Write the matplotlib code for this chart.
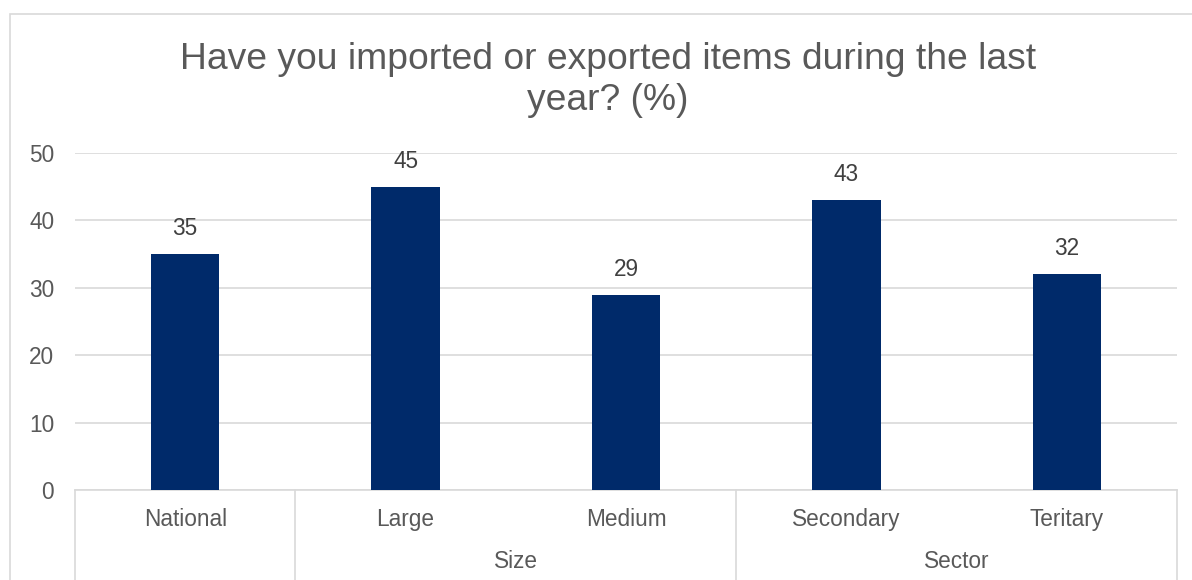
import matplotlib
matplotlib.use("Agg")
import matplotlib.pyplot as plt
from matplotlib.patches import Rectangle
import matplotlib.transforms as mtransforms

plt.rcParams['font.family'] = ['Liberation Sans', 'DejaVu Sans']

# Data
categories = ["National", "Large", "Medium", "Secondary", "Teritary"]
values = [35, 45, 29, 43, 32]
groups = ["", "Size", "Sector"]
group_spans = [(0, 0), (1, 2), (3, 4)]  # first/last category index of each group
title = "Have you imported or exported items during the last\nyear? (%)"
yticks = [0, 10, 20, 30, 40, 50]

W, H = 1192, 580
fig = plt.figure(figsize=(W / 100, H / 100), dpi=100)
fig.patch.set_facecolor("white")

grid_c = "#D9D9D9"
text_c = "#595959"
label_c = "#404040"
bar_c = "#002A6A"
fs = 16.3

# Outer chart frame
fig.patches.append(Rectangle((10 / W, -0.5), 2.0, 1.5 - 14 / H,
                             transform=fig.transFigure, fill=False,
                             edgecolor=grid_c, lw=1.2, zorder=0))

ax = fig.add_axes([75 / W, (H - 490) / H, (1177 - 75) / W, (490 - 153) / H])
x = list(range(len(categories)))
ax.bar(x, values, width=0.31, color=bar_c, zorder=3)
ax.set_xlim(-0.5, len(categories) - 0.5)
ax.set_ylim(0, 50)

ax.set_yticks(yticks)
ax.set_yticklabels([str(t) for t in yticks], fontsize=fs, color=text_c)
ax.tick_params(axis="y", length=0, pad=15)
ax.yaxis.grid(True, color=grid_c, lw=1.2, zorder=0)

for s in ["top", "right", "left"]:
    ax.spines[s].set_visible(False)
ax.spines["bottom"].set_color(grid_c)
ax.spines["bottom"].set_linewidth(1.2)

ax.set_xticks(x)
ax.set_xticklabels(categories, fontsize=fs, color=text_c)
ax.tick_params(axis="x", length=0, pad=13)

# Value labels above bars
for xi, v in zip(x, values):
    ax.annotate(str(v), (xi, v), xytext=(0, 10), textcoords="offset points",
                ha="center", va="bottom", fontsize=fs, color=label_c)

# Multi-level axis: group separators and group names
trans = mtransforms.blended_transform_factory(ax.transData, ax.transAxes)
bounds = sorted({-0.5} | {e + 0.5 for _, e in group_spans})
for b in bounds:
    ax.plot([b, b], [0, -0.4], transform=trans, color=grid_c, lw=1.2,
            clip_on=False, zorder=1)
for name, (s, e) in zip(groups, group_spans):
    if name:
        ax.text((s + e) / 2, -(561 - 490) / (490 - 153), name, transform=trans,
                ha="center", va="center", fontsize=fs, color=text_c)

fig.text(608 / W, 1 - 80 / H, title, ha="center",
         va="center", fontsize=26.8, color=text_c, linespacing=1.24)

fig.savefig("out.png", dpi=100, facecolor="white")
